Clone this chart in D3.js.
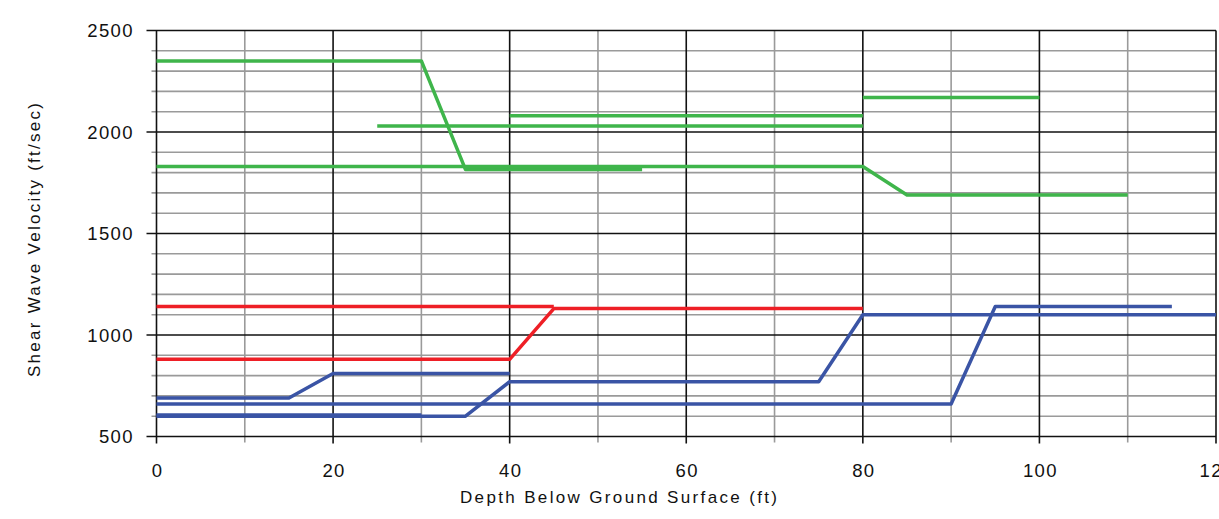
<!DOCTYPE html>
<html>
<head>
<meta charset="utf-8">
<script src="https://cdn.jsdelivr.net/npm/d3@7.9.0/dist/d3.min.js"></script>
<style>
  body { margin: 0; background: #fff; }
  svg { display: block; font-family: "Liberation Sans", Arial, sans-serif; }
</style>
</head>
<body>
<svg id="chart" width="1219" height="519"></svg>
<script>
// depth (ft), shear wave velocity (ft/sec)
const green1 = [[0, 2350], [30, 2350], [35, 1815], [55, 1815]];
const green2 = [[0, 1830], [80, 1830], [85, 1690], [110, 1690]];
const green3 = [[25, 2030], [80, 2030]];
const green4 = [[40, 2080], [80, 2080]];
const green5 = [[80, 2170], [100, 2170]];

const red1 = [[0, 1140], [45, 1140]];
const red2 = [[0, 880], [40, 880], [45, 1130], [80, 1130]];

const blue1 = [[0, 690], [15, 690], [20, 810], [40, 810]];
const blue2 = [[0, 660], [90, 660], [95, 1140], [115, 1140]];
const blue3 = [[0, 600], [35, 600], [40, 770], [75, 770], [80, 1100], [120, 1100]];
const blue4 = [[0, 606], [30, 606]];

const xMajor = [0, 20, 40, 60, 80, 100, 120];
const yMajor = [500, 1000, 1500, 2000, 2500];

const series = [
  { pts: green1, color: '#3fb54b' }, { pts: green2, color: '#3fb54b' },
  { pts: green3, color: '#3fb54b' }, { pts: green4, color: '#3fb54b' },
  { pts: green5, color: '#3fb54b' },
  { pts: red1, color: '#ee1f26' }, { pts: red2, color: '#ee1f26' },
  { pts: blue1, color: '#3a54a5' }, { pts: blue2, color: '#3a54a5' },
  { pts: blue3, color: '#3a54a5' }, { pts: blue4, color: '#3a54a5' }
];

const svg = d3.select('#chart');
const plotL = 156.5, plotR = 1216, plotT = 30.5, plotB = 436.5;

const x = d3.scaleLinear().domain([0, 120]).range([plotL, plotR]);
const y = d3.scaleLinear().domain([500, 2500]).range([plotB, plotT]);

const xMinor = d3.range(10, 120, 20);
const yMinor = d3.range(500, 2500, 100).filter(v => v % 500 !== 0);

const grid = svg.append('g');

// minor grid (gray)
grid.selectAll('.hmin').data(yMinor).join('line')
    .attr('x1', plotL - 5).attr('x2', plotR)
    .attr('y1', d => y(d)).attr('y2', d => y(d))
    .attr('stroke', '#9a9a9a').attr('stroke-width', 1.6);
grid.selectAll('.vmin').data(xMinor).join('line')
    .attr('x1', d => x(d)).attr('x2', d => x(d))
    .attr('y1', plotT).attr('y2', plotB + 6)
    .attr('stroke', '#9a9a9a').attr('stroke-width', 1.6);

// major grid (black)
grid.selectAll('.hmaj').data(yMajor).join('line')
    .attr('x1', plotL - 10).attr('x2', plotR)
    .attr('y1', d => y(d)).attr('y2', d => y(d))
    .attr('stroke', '#111').attr('stroke-width', 1.6);
grid.selectAll('.vmaj').data(xMajor).join('line')
    .attr('x1', d => x(d)).attr('x2', d => x(d))
    .attr('y1', plotT).attr('y2', plotB + 7)
    .attr('stroke', '#111').attr('stroke-width', 1.6);

// tick labels
svg.append('g').selectAll('text').data(yMajor).join('text')
    .attr('x', 134).attr('y', d => y(d))
    .attr('dy', '0.36em')
    .attr('text-anchor', 'end')
    .attr('font-size', 18.5).attr('letter-spacing', 1.4)
    .attr('fill', '#111')
    .text(d => d);

svg.append('g').selectAll('text').data(xMajor).join('text')
    .attr('x', d => x(d) + 1).attr('y', 477)
    .attr('text-anchor', 'middle')
    .attr('font-size', 18.5).attr('letter-spacing', 1.4)
    .attr('fill', '#111')
    .text(d => d);

// axis titles
svg.append('text')
    .attr('x', 460).attr('y', 503)
    .attr('font-size', 17)
    .attr('textLength', 317).attr('lengthAdjust', 'spacing')
    .attr('fill', '#111')
    .text('Depth Below Ground Surface (ft)');

svg.append('text')
    .attr('transform', 'translate(40,377) rotate(-90)')
    .attr('font-size', 17)
    .attr('textLength', 274).attr('lengthAdjust', 'spacing')
    .attr('fill', '#111')
    .text('Shear Wave Velocity (ft/sec)');

// data lines
const line = d3.line().x(d => x(d[0])).y(d => y(d[1]));
svg.append('g').selectAll('path').data(series).join('path')
    .attr('d', d => line(d.pts))
    .attr('fill', 'none')
    .attr('stroke', d => d.color)
    .attr('stroke-width', 3.5)
    .attr('stroke-linejoin', 'round');
</script>
</body>
</html>
